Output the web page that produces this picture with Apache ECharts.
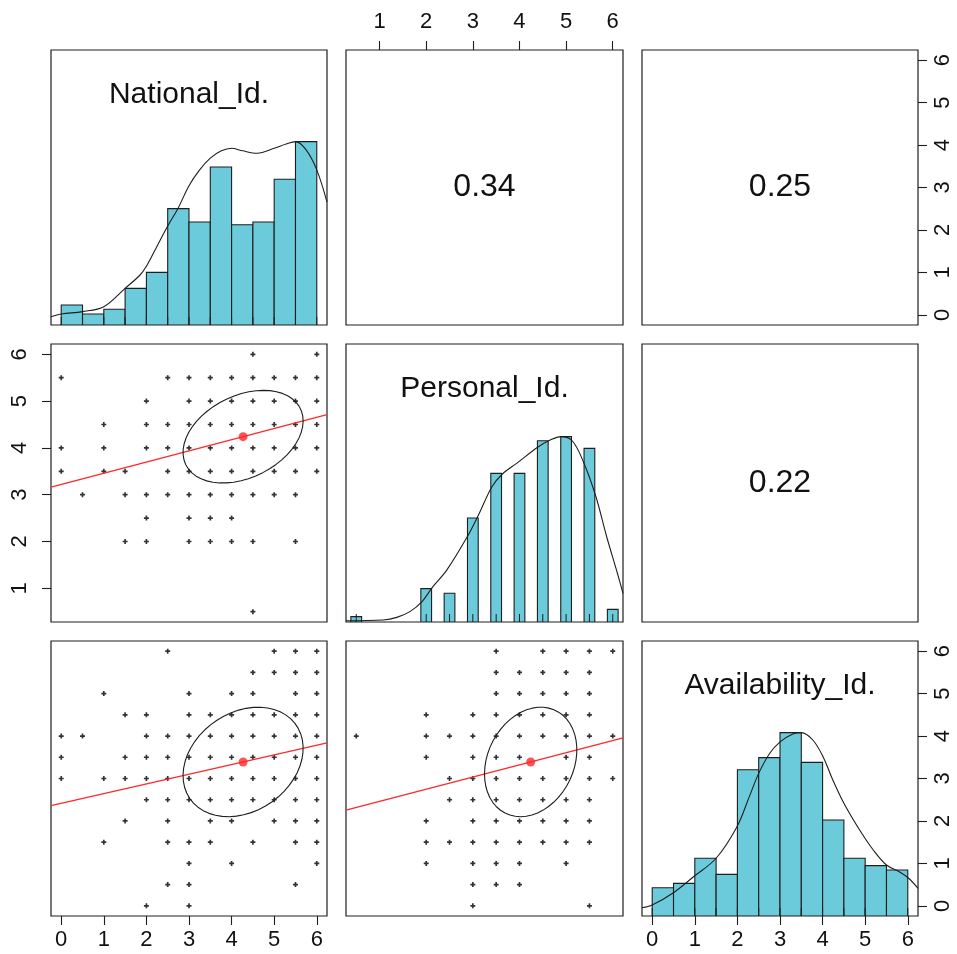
<!DOCTYPE html>
<html>
<head>
<meta charset="utf-8">
<script src="https://cdn.jsdelivr.net/npm/echarts@6/dist/echarts.min.js"></script>
<style>
html, body { margin: 0; padding: 0; background: #fff; }
#chart { width: 957px; height: 954px; }
</style>
</head>
<body>
<div id="chart"></div>
<script>
// variables (diagonal labels)
const varNames = ["National_Id.", "Personal_Id.", "Availability_Id."];
// axis ranges per variable (data range padded by 4%)
const axisMin = [-0.24, 0.28, -0.24];
const axisMax = [6.24, 6.22, 6.24];
const tickValues = [[0, 1, 2, 3, 4, 5, 6], [1, 2, 3, 4, 5, 6], [0, 1, 2, 3, 4, 5, 6]];

const means = [4.27, 4.24, 3.39];
const sds = [1.41, 0.99, 1.29];
// correlations [varA, varB, r]
const corrs = [[0, 1, 0.34], [0, 2, 0.25], [1, 2, 0.22]];

// histograms, bar height relative to tallest bar
const natBreaks = [0, 0.5, 1, 1.5, 2, 2.5, 3, 3.5, 4, 4.5, 5, 5.5, 6];
const natHeights = [0.109, 0.06, 0.086, 0.2, 0.287, 0.635, 0.562, 0.862, 0.547, 0.562, 0.795, 1.0];
const persCenters = [0.5, 2, 2.5, 3, 3.5, 4, 4.5, 5, 5.5, 6];
const persHeights = [0.029, 0.18, 0.155, 0.561, 0.802, 0.802, 0.978, 1.0, 0.937, 0.068];
const persHalfBin = 0.115;
const availBreaks = [0, 0.5, 1, 1.5, 2, 2.5, 3, 3.5, 4, 4.5, 5, 5.5, 6];
const availHeights = [0.154, 0.178, 0.315, 0.227, 0.798, 0.864, 1.0, 0.838, 0.524, 0.315, 0.275, 0.251];

// density curves (scaled to max 1)
const natDensity = [[-0.24, 0.045], [0, 0.06], [0.5, 0.073], [1, 0.1], [1.5, 0.2], [1.84, 0.27], [2, 0.32],
  [2.25, 0.43], [2.5, 0.54], [2.75, 0.64], [3, 0.76], [3.25, 0.846], [3.5, 0.91], [3.76, 0.95], [4, 0.964],
  [4.26, 0.95], [4.6, 0.937], [5, 0.964], [5.28, 0.987], [5.5, 1.0], [5.75, 0.955], [6, 0.846], [6.24, 0.67]];
const persDensity = [[0.28, 0.007], [1.08, 0.011], [1.37, 0.025], [1.65, 0.056], [1.91, 0.11], [2.14, 0.19],
  [2.44, 0.28], [2.88, 0.46], [3.12, 0.577], [3.41, 0.73], [3.64, 0.8], [3.94, 0.856], [4.39, 0.943],
  [4.66, 0.982], [4.89, 1.0], [5.13, 0.978], [5.37, 0.865], [5.64, 0.676], [5.87, 0.46], [6.1, 0.263], [6.22, 0.155]];
const availDensity = [[-0.24, 0.045], [0, 0.06], [0.48, 0.124], [0.97, 0.214], [1.5, 0.315], [1.99, 0.487],
  [2.28, 0.651], [2.5, 0.778], [2.76, 0.888], [3.01, 0.951], [3.3, 0.993], [3.5, 1.0], [3.77, 0.96],
  [4.01, 0.869], [4.24, 0.742], [4.5, 0.615], [4.87, 0.469], [5.19, 0.36], [5.5, 0.278], [5.81, 0.24],
  [6.02, 0.206], [6.24, 0.151]];

// rug values
const natVals = [0, 0.5, 1, 1.5, 2, 2.5, 3, 3.5, 4, 4.5, 5, 5.5, 6];
const persVals = [0.5, 2, 2.5, 3, 3.5, 4, 4.5, 5, 5.5, 6];
const availVals = [0, 0.5, 1, 1.5, 2, 2.5, 3, 3.5, 4, 4.5, 5, 5.5, 6];

// scatter points [x, y]
const natPersPts = [
  [4.5, 6], [6, 6],
  [0, 5.5], [2.5, 5.5], [3, 5.5], [3.5, 5.5], [4, 5.5], [4.5, 5.5], [5, 5.5], [5.5, 5.5], [6, 5.5],
  [2, 5], [3, 5], [3.5, 5], [4, 5], [4.5, 5], [5, 5], [5.5, 5], [6, 5],
  [1, 4.5], [2, 4.5], [2.5, 4.5], [3, 4.5], [3.5, 4.5], [4, 4.5], [4.5, 4.5], [5, 4.5], [5.5, 4.5], [6, 4.5],
  [0, 4], [1, 4], [2, 4], [2.5, 4], [3, 4], [3.5, 4], [4, 4], [4.5, 4], [5, 4], [5.5, 4], [6, 4],
  [0, 3.5], [1, 3.5], [1.5, 3.5], [2.5, 3.5], [3, 3.5], [3.5, 3.5], [4, 3.5], [4.5, 3.5], [5, 3.5], [5.5, 3.5], [6, 3.5],
  [0.5, 3], [1.5, 3], [2, 3], [2.5, 3], [3, 3], [3.5, 3], [4, 3], [4.5, 3], [5, 3], [5.5, 3],
  [2, 2.5], [3, 2.5], [3.5, 2.5], [4, 2.5],
  [1.5, 2], [2, 2], [3, 2], [3.5, 2], [4, 2], [4.5, 2], [5.5, 2],
  [4.5, 0.5]
];
const natAvailPts = [
  [2.5, 6], [5, 6], [5.5, 6], [6, 6],
  [4.5, 5.5], [5, 5.5], [5.5, 5.5], [6, 5.5],
  [1, 5], [3, 5], [4, 5], [4.5, 5], [5.5, 5], [6, 5],
  [1.5, 4.5], [2, 4.5], [3, 4.5], [3.5, 4.5], [4, 4.5], [4.5, 4.5], [5, 4.5], [5.5, 4.5], [6, 4.5],
  [0, 4], [0.5, 4], [2, 4], [2.5, 4], [3, 4], [3.5, 4], [4, 4], [4.5, 4], [5, 4], [5.5, 4], [6, 4],
  [0, 3.5], [1.5, 3.5], [2, 3.5], [2.5, 3.5], [3, 3.5], [3.5, 3.5], [4, 3.5], [4.5, 3.5], [5, 3.5], [5.5, 3.5], [6, 3.5],
  [0, 3], [1, 3], [1.5, 3], [2, 3], [2.5, 3], [3, 3], [3.5, 3], [4, 3], [4.5, 3], [5, 3], [5.5, 3], [6, 3],
  [2, 2.5], [2.5, 2.5], [3, 2.5], [3.5, 2.5], [4, 2.5], [4.5, 2.5], [5, 2.5], [5.5, 2.5], [6, 2.5],
  [1.5, 2], [2.5, 2], [3.5, 2], [4, 2], [5, 2], [5.5, 2], [6, 2],
  [1, 1.5], [2.5, 1.5], [3, 1.5], [3.5, 1.5], [4.5, 1.5], [5.5, 1.5], [6, 1.5],
  [3, 1], [4, 1], [6, 1],
  [2.5, 0.5], [3, 0.5], [5.5, 0.5],
  [2, 0], [3, 0]
];
const persAvailPts = [
  [3.5, 6], [4.5, 6], [5, 6], [5.5, 6], [6, 6],
  [3.5, 5.5], [4, 5.5], [4.5, 5.5], [5, 5.5], [5.5, 5.5],
  [3.5, 5], [4, 5], [4.5, 5], [5, 5], [5.5, 5],
  [2, 4.5], [3, 4.5], [3.5, 4.5], [4, 4.5], [4.5, 4.5], [5, 4.5], [5.5, 4.5],
  [0.5, 4], [2, 4], [2.5, 4], [3, 4], [3.5, 4], [4, 4], [4.5, 4], [5, 4], [5.5, 4], [6, 4],
  [2, 3.5], [3, 3.5], [3.5, 3.5], [4, 3.5], [5, 3.5], [5.5, 3.5],
  [2.5, 3], [3, 3], [3.5, 3], [4, 3], [4.5, 3], [5, 3], [5.5, 3], [6, 3],
  [2.5, 2.5], [3, 2.5], [3.5, 2.5], [4, 2.5], [4.5, 2.5], [5, 2.5], [5.5, 2.5],
  [2, 2], [3, 2], [3.5, 2], [4, 2], [4.5, 2], [5, 2], [5.5, 2],
  [2, 1.5], [2.5, 1.5], [3, 1.5], [3.5, 1.5], [4, 1.5], [4.5, 1.5], [5, 1.5], [5.5, 1.5],
  [2, 1], [3, 1], [3.5, 1], [4, 1], [5, 1],
  [3, 0.5], [3.5, 0.5], [4, 0.5],
  [3, 0], [5.5, 0]
];

const histBins = [
  natHeights.map((h, i) => [natBreaks[i], natBreaks[i + 1], h]),
  persHeights.map((h, i) => [persCenters[i] - persHalfBin, persCenters[i] + persHalfBin, h]),
  availHeights.map((h, i) => [availBreaks[i], availBreaks[i + 1], h])
];
const densities = [natDensity, persDensity, availDensity];
const rugs = [natVals, persVals, availVals];
const scatterPts = { "1_0": natPersPts, "2_0": natAvailPts, "2_1": persAvailPts };

// layout
const lefts = [51, 346, 642], widths = [276, 277, 276];
const tops = [50, 344, 641], heights = [275, 278, 275];
const FONT = "'Liberation Sans', Arial, sans-serif";
const INK = "#1e1e1e";
const HIST_COL = "#6BCBDB";
const RED = "#FF2828";
const plusSymbol = "path://M1,0L2,0L2,1L3,1L3,2L2,2L2,3L1,3L1,2L0,2L0,1L1,1Z";

function getCorr(a, b) {
  for (const c of corrs) {
    if ((c[0] === a && c[1] === b) || (c[0] === b && c[1] === a)) return c[2];
  }
  return 0;
}

const grids = [], xAxes = [], yAxes = [], series = [], graphics = [];

function makeAxis(gridIndex, min, max, show, position, ticks, extraLabel) {
  return {
    gridIndex: gridIndex,
    type: "value",
    min: min,
    max: max,
    position: position,
    axisLine: { show: false, onZero: false },
    splitLine: { show: false },
    axisTick: { show: show, length: 9, customValues: ticks, lineStyle: { color: INK, width: 1.1 } },
    axisLabel: Object.assign({
      show: show,
      customValues: ticks,
      fontSize: 22,
      fontFamily: FONT,
      color: "#111"
    }, extraLabel || {})
  };
}

for (let r = 0; r < 3; r++) {
  for (let c = 0; c < 3; c++) {
    const i = r * 3 + c;
    grids.push({
      left: lefts[c], top: tops[r], width: widths[c], height: heights[r],
      show: true, borderColor: INK, borderWidth: 1.2, backgroundColor: "transparent"
    });
    const showX = (r === 0 && c === 1) || (r === 2 && c === 0) || (r === 2 && c === 2);
    xAxes.push(makeAxis(i, axisMin[c], axisMax[c], showX, r === 0 ? "top" : "bottom", tickValues[c],
      { margin: r === 0 ? 17 : 13 }));
    if (r === c) {
      yAxes.push(makeAxis(i, 0, 1.5, false, "left", null));
    } else {
      const showY = (r === 0 && c === 2) || (r === 1 && c === 0);
      yAxes.push(makeAxis(i, axisMin[r], axisMax[r], showY, c === 0 ? "left" : "right", tickValues[r],
        { rotate: 90, margin: c === 0 ? 20 : 14 }));
    }
  }
}
// right axis of the last diagonal panel uses the Availability scale
yAxes.push(makeAxis(8, axisMin[2], axisMax[2], true, "right", tickValues[2], { rotate: 90, margin: 14 }));

for (let r = 0; r < 3; r++) {
  for (let c = 0; c < 3; c++) {
    const i = r * 3 + c;
    const cx = lefts[c] + widths[c] / 2;
    const cy = tops[r] + heights[r] / 2;
    if (r === c) {
      // histogram
      series.push({
        type: "custom",
        xAxisIndex: i, yAxisIndex: i,
        clip: true,
        data: histBins[r],
        renderItem: function (params, api) {
          const p0 = api.coord([api.value(0), api.value(2)]);
          const p1 = api.coord([api.value(1), 0]);
          return {
            type: "rect",
            shape: { x: p0[0], y: p0[1], width: p1[0] - p0[0], height: p1[1] - p0[1] },
            style: { fill: HIST_COL, stroke: INK, lineWidth: 1.1 }
          };
        }
      });
      // rug
      series.push({
        type: "custom",
        xAxisIndex: i, yAxisIndex: i,
        data: rugs[r].map(v => [v]),
        renderItem: function (params, api) {
          const p = api.coord([api.value(0), 0]);
          return {
            type: "line",
            shape: { x1: p[0], y1: p[1], x2: p[0], y2: p[1] - 8 },
            style: { stroke: INK, lineWidth: 1 }
          };
        }
      });
      // density
      series.push({
        type: "line",
        xAxisIndex: i, yAxisIndex: i,
        data: densities[r],
        smooth: 0.35,
        showSymbol: false,
        clip: true,
        lineStyle: { color: INK, width: 1.1 },
        z: 5
      });
      graphics.push({
        type: "text",
        x: cx, y: tops[r] + 45,
        style: {
          text: varNames[r], font: "30px " + FONT, fill: "#111",
          textAlign: "center", textVerticalAlign: "middle"
        }
      });
    } else if (r > c) {
      const pts = scatterPts[r + "_" + c];
      const rho = getCorr(r, c);
      const mx = means[c], my = means[r], sx = sds[c], sy = sds[r];
      series.push({
        type: "scatter",
        xAxisIndex: i, yAxisIndex: i,
        data: pts,
        symbol: plusSymbol,
        symbolSize: 5,
        itemStyle: { color: "#000" }
      });
      // regression line
      const slope = rho * sy / sx;
      const icpt = my - slope * mx;
      series.push({
        type: "line",
        xAxisIndex: i, yAxisIndex: i,
        data: [[axisMin[c], icpt + slope * axisMin[c]], [axisMax[c], icpt + slope * axisMax[c]]],
        showSymbol: false,
        clip: true,
        lineStyle: { color: RED, width: 1.3 },
        z: 4
      });
      // correlation ellipse (psych::draw.ellipse)
      const th = 1 / Math.sqrt(2);
      const a1 = Math.sqrt(1 + rho), a2 = Math.sqrt(1 - rho);
      const ell = [];
      for (let k = 0; k <= 51; k++) {
        const ang = k * 2 * Math.PI / 51;
        const co = Math.cos(ang), si = Math.sin(ang);
        ell.push([mx + sx * th * (a1 * co - a2 * si), my + sy * th * (a1 * co + a2 * si)]);
      }
      series.push({
        type: "line",
        xAxisIndex: i, yAxisIndex: i,
        data: ell,
        showSymbol: false,
        clip: true,
        lineStyle: { color: INK, width: 1.1 },
        z: 4
      });
      // mean
      series.push({
        type: "scatter",
        xAxisIndex: i, yAxisIndex: i,
        data: [[mx, my]],
        symbol: "circle",
        symbolSize: 9,
        itemStyle: { color: RED },
        z: 6
      });
    } else {
      graphics.push({
        type: "text",
        x: cx, y: cy,
        style: {
          text: getCorr(r, c).toFixed(2), font: "32px " + FONT, fill: "#111",
          textAlign: "center", textVerticalAlign: "middle"
        }
      });
    }
  }
}

const chart = echarts.init(document.getElementById("chart"), null, { renderer: "canvas" });
chart.setOption({
  backgroundColor: "#fff",
  animation: false,
  grid: grids,
  xAxis: xAxes,
  yAxis: yAxes,
  series: series,
  graphic: graphics
});
</script>
</body>
</html>
